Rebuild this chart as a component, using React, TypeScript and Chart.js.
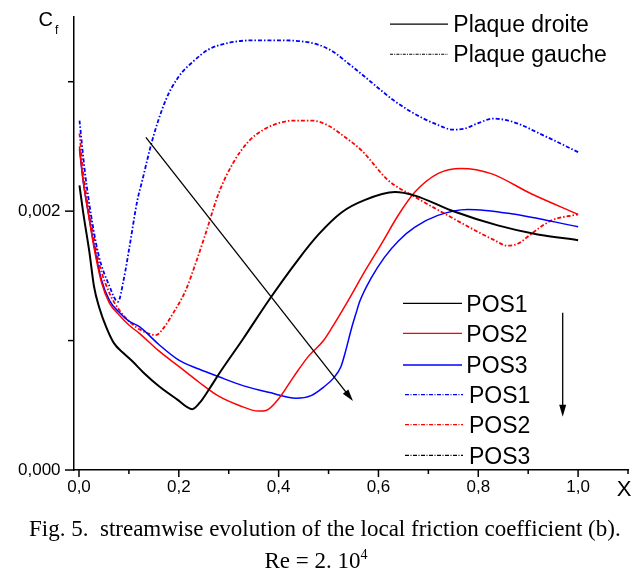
import React, { useEffect, useRef } from 'react';
import { Chart, registerables } from 'chart.js';

Chart.register(...registerables);

// ---- Data (Cf values given in units of 1e-3) ----
// Plaque droite (solid)
const droitePos1X = [0.001, 0.008, 0.021, 0.03, 0.041, 0.055, 0.07, 0.09, 0.107, 0.13, 0.161, 0.195, 0.227, 0.242, 0.26, 0.28, 0.33, 0.38, 0.44, 0.48, 0.526, 0.572, 0.633, 0.673, 0.746, 0.839, 0.919, 1.0];
const droitePos1Y = [2.20, 2.00, 1.68, 1.42, 1.25, 1.10, 0.98, 0.90, 0.84, 0.75, 0.645, 0.55, 0.47, 0.52, 0.62, 0.74, 1.02, 1.31, 1.63, 1.82, 1.99, 2.085, 2.147, 2.12, 2.005, 1.89, 1.82, 1.776];

const droitePos2X = [0.001, 0.008, 0.018, 0.03, 0.045, 0.061, 0.08, 0.1, 0.121, 0.16, 0.2, 0.24, 0.28, 0.32, 0.36, 0.375, 0.40, 0.43, 0.46, 0.49, 0.51, 0.539, 0.572, 0.606, 0.64, 0.673, 0.719, 0.766, 0.826, 0.906, 1.0];
const droitePos2Y = [2.50, 2.25, 2.00, 1.72, 1.45, 1.29, 1.20, 1.12, 1.056, 0.92, 0.80, 0.68, 0.57, 0.50, 0.455, 0.46, 0.55, 0.72, 0.88, 1.00, 1.12, 1.307, 1.53, 1.747, 1.97, 2.147, 2.29, 2.33, 2.29, 2.134, 1.975];

const droitePos3X = [0.001, 0.008, 0.018, 0.03, 0.045, 0.061, 0.08, 0.1, 0.121, 0.16, 0.2, 0.24, 0.28, 0.33, 0.38, 0.435, 0.465, 0.49, 0.51, 0.525, 0.535, 0.545, 0.555, 0.563, 0.585, 0.612, 0.64, 0.673, 0.719, 0.779, 0.866, 1.0];
const droitePos3Y = [2.48, 2.24, 2.00, 1.74, 1.47, 1.31, 1.22, 1.15, 1.107, 0.97, 0.849, 0.78, 0.72, 0.65, 0.60, 0.555, 0.575, 0.64, 0.71, 0.80, 0.93, 1.08, 1.21, 1.307, 1.48, 1.643, 1.77, 1.876, 1.967, 2.013, 1.98, 1.88];

// Plaque gauche (dash-dot)
const gauchePos1X = [0.001, 0.012, 0.025, 0.04, 0.06, 0.078, 0.09, 0.101, 0.117, 0.127, 0.147, 0.174, 0.2, 0.227, 0.26, 0.3, 0.35, 0.4, 0.45, 0.48, 0.51, 0.54, 0.569, 0.6, 0.629, 0.66, 0.688, 0.72, 0.748, 0.77, 0.8, 0.83, 0.86, 0.89, 0.917, 0.95, 1.0];
const gauchePos1Y = [2.70, 2.30, 1.95, 1.65, 1.43, 1.30, 1.48, 1.72, 2.085, 2.24, 2.55, 2.86, 3.04, 3.15, 3.25, 3.30, 3.32, 3.32, 3.31, 3.285, 3.23, 3.14, 3.05, 2.95, 2.86, 2.78, 2.72, 2.665, 2.63, 2.635, 2.68, 2.715, 2.70, 2.66, 2.61, 2.55, 2.456];

const gauchePos2X = [0.001, 0.01, 0.025, 0.04, 0.061, 0.08, 0.1, 0.12, 0.135, 0.154, 0.17, 0.19, 0.214, 0.234, 0.254, 0.28, 0.31, 0.34, 0.37, 0.40, 0.43, 0.466, 0.5, 0.53, 0.566, 0.619, 0.673, 0.739, 0.8, 0.83, 0.859, 0.88, 0.906, 0.946, 1.0];
const gauchePos2Y = [2.60, 2.25, 1.90, 1.60, 1.367, 1.24, 1.15, 1.09, 1.06, 1.042, 1.10, 1.22, 1.39, 1.60, 1.83, 2.14, 2.38, 2.54, 2.63, 2.68, 2.70, 2.70, 2.66, 2.58, 2.47, 2.24, 2.11, 1.967, 1.838, 1.78, 1.733, 1.75, 1.824, 1.927, 1.975];

const gauchePos3X: number[] = [];
const gauchePos3Y: number[] = [];

// ---- Text ----
const xTickLabels = ['0,0', '0,2', '0,4', '0,6', '0,8', '1,0'];
const yTickLabels = ['0,000', '0,002'];
const plaqueLabels = ['Plaque droite', 'Plaque gauche'];
const posLabels = ['POS1', 'POS2', 'POS3', 'POS1', 'POS2', 'POS3'];
const captionLine1 = 'Fig. 5.  streamwise evolution of the local friction coefficient (b).';
const captionLine2 = 'Re = 2. 10';
const captionSup = '4';

const SANS = '"Liberation Sans", Arial, Helvetica, sans-serif';
const SERIF = '"Liberation Serif", "Times New Roman", Times, serif';

const DD = [4, 2, 1.5, 2];
const DD_LEG = [4, 1.5, 1, 1.5];
const DD_FINE = [3, 1.2, 1, 1.2];

function drawArrow(ctx: CanvasRenderingContext2D, x1: number, y1: number, x2: number, y2: number, hl: number, hw: number) {
  const a = Math.atan2(y2 - y1, x2 - x1);
  const bx = x2 - hl * Math.cos(a);
  const by = y2 - hl * Math.sin(a);
  ctx.beginPath();
  ctx.moveTo(x1, y1);
  ctx.lineTo(bx + 1 * Math.cos(a), by + 1 * Math.sin(a));
  ctx.stroke();
  ctx.beginPath();
  ctx.moveTo(x2, y2);
  ctx.lineTo(bx + hw * Math.sin(a), by - hw * Math.cos(a));
  ctx.lineTo(bx - hw * Math.sin(a), by + hw * Math.cos(a));
  ctx.closePath();
  ctx.fill();
}

const overlay = {
  id: 'overlay',
  afterDraw(chart: any) {
    const ctx: CanvasRenderingContext2D = chart.ctx;
    const xs = chart.scales.x;
    const ys = chart.scales.y;
    const ca = chart.chartArea;
    ctx.save();
    ctx.strokeStyle = '#000';
    ctx.fillStyle = '#000';
    ctx.lineWidth = 1.5;
    ctx.setLineDash([]);
    // tick marks
    for (let i = 0; i <= 11; i++) {
      const px = xs.getPixelForValue(i / 10);
      const len = i % 2 === 0 ? 7 : 4;
      ctx.beginPath();
      ctx.moveTo(px, ca.bottom);
      ctx.lineTo(px, ca.bottom + len);
      ctx.stroke();
    }
    for (let i = 0; i <= 3; i++) {
      const py = ys.getPixelForValue(i / 1000);
      const len = i % 2 === 0 ? 9 : 6;
      ctx.beginPath();
      ctx.moveTo(ca.left - len, py);
      ctx.lineTo(ca.left, py);
      ctx.stroke();
    }

    // axis titles
    ctx.textBaseline = 'alphabetic';
    ctx.textAlign = 'left';
    ctx.font = `20px ${SANS}`;
    ctx.fillText('C', 38.5, 26);
    ctx.font = `12px ${SANS}`;
    ctx.fillText('f', 55, 33.5);
    ctx.font = `22px ${SANS}`;
    ctx.textAlign = 'center';
    ctx.fillText('X', 624, 496);

    // diagonal arrow
    ctx.lineWidth = 1.3;
    drawArrow(ctx, xs.getPixelForValue(0.134), ys.getPixelForValue(0.00257),
      xs.getPixelForValue(0.549), ys.getPixelForValue(0.000533), 12, 3.5);
    // legend arrow
    drawArrow(ctx, 562.7, 312.7, 562.7, 416.7, 12, 3.5);

    // Plaque legend
    ctx.textAlign = 'left';
    ctx.font = `23px ${SANS}`;
    const plaqueY = [24.2, 54.2];
    const plaqueDash = [[], DD_FINE];
    plaqueLabels.forEach((t, i) => {
      ctx.lineWidth = i === 0 ? 1.3 : 1.1;
      ctx.setLineDash(plaqueDash[i]);
      ctx.beginPath();
      ctx.moveTo(390, plaqueY[i]);
      ctx.lineTo(448, plaqueY[i]);
      ctx.stroke();
      ctx.setLineDash([]);
      ctx.fillText(t, 453.3, plaqueY[i] + 8.2);
    });

    // POS legend
    const posY = [303.3, 333.3, 365, 394.7, 424.7, 455.3];
    const ds = chart.data.datasets;
    posLabels.forEach((t, i) => {
      const d = ds[i];
      const dashed = i >= 3;
      ctx.strokeStyle = d.borderColor;
      ctx.lineWidth = dashed ? 1.2 : 1.3;
      ctx.setLineDash(dashed ? DD_LEG : []);
      ctx.beginPath();
      ctx.moveTo(dashed ? 405 : 403, posY[i]);
      ctx.lineTo(dashed ? 463 : 462, posY[i]);
      ctx.stroke();
      ctx.setLineDash([]);
      ctx.fillStyle = '#000';
      ctx.fillText(t, dashed ? 469 : 466.3, posY[i] + 8.2);
    });
    ctx.restore();
  },
};

export default function App() {
  const ref = useRef<HTMLCanvasElement>(null);
  useEffect(() => {
    const canvas = ref.current!;
    const mk = (xs: number[], ys: number[]) => xs.map((x, i) => ({ x, y: ys[i] / 1000 }));
    const chart = new Chart(canvas, {
      type: 'line',
      data: {
        datasets: [
          { label: 'POS1', data: mk(droitePos1X, droitePos1Y), borderColor: '#000000', borderWidth: 2 },
          { label: 'POS2', data: mk(droitePos2X, droitePos2Y), borderColor: '#ff0000', borderWidth: 1.5 },
          { label: 'POS3', data: mk(droitePos3X, droitePos3Y), borderColor: '#0000ff', borderWidth: 1.5 },
          { label: 'POS1', data: mk(gauchePos1X, gauchePos1Y), borderColor: '#0000ff', borderWidth: 1.8, borderDash: DD },
          { label: 'POS2', data: mk(gauchePos2X, gauchePos2Y), borderColor: '#ff0000', borderWidth: 1.8, borderDash: DD },
          { label: 'POS3', data: mk(gauchePos3X, gauchePos3Y), borderColor: '#000000', borderWidth: 1.8, borderDash: DD },
        ] as any,
      },
      options: {
        responsive: false,
        animation: false,
        devicePixelRatio: 1,
        layout: { padding: { left: 18, right: 3, top: 17, bottom: 0 } },
        plugins: { legend: { display: false }, tooltip: { enabled: false }, title: { display: false } },
        elements: {
          point: { radius: 0 },
          line: { cubicInterpolationMode: 'monotone', fill: false },
        },
        scales: {
          x: {
            type: 'linear',
            min: -0.01,
            max: 1.1,
            grid: { display: false, drawTicks: false },
            border: { display: true, color: '#000', width: 1.5 },
            ticks: {
              stepSize: 0.1,
              includeBounds: false,
              autoSkip: false,
              maxRotation: 0,
              padding: 7,
              color: '#000',
              font: { size: 17, family: SANS },
              callback: (v: any) => {
                const k = Math.round(Number(v) * 10);
                if (k % 2 !== 0) return '';
                return xTickLabels[k / 2] ?? '';
              },
            },
            afterFit: (s: any) => { s.height = 107; },
          },
          y: {
            type: 'linear',
            min: 0,
            max: 0.0035,
            grid: { display: false, drawTicks: false },
            border: { display: true, color: '#000', width: 1.5 },
            ticks: {
              stepSize: 0.001,
              includeBounds: false,
              autoSkip: false,
              padding: 0,
              crossAlign: 'far',
              color: '#000',
              font: { size: 17, family: SANS },
              callback: (v: any) => {
                const k = Math.round(Number(v) * 1000);
                if (k % 2 !== 0) return '';
                return yTickLabels[k / 2] ?? '';
              },
            },
            afterFit: (s: any) => { s.width = 56; },
          },
        },
      } as any,
      plugins: [overlay],
    });
    return () => chart.destroy();
  }, []);

  return (
    <div style={{ position: 'absolute', left: 0, top: 0, width: 635, height: 577, background: '#fff', overflow: 'hidden' }}>
      <canvas ref={ref} width={635} height={577} style={{ position: 'absolute', left: 0, top: 0, width: 635, height: 577 }} />
      <div style={{ position: 'absolute', left: 29, top: 517, font: `23px ${SERIF}`, lineHeight: '23px', whiteSpace: 'pre', color: '#000' }}>
        {captionLine1}
      </div>
      <div style={{ position: 'absolute', left: 264.5, top: 549, font: `23px ${SERIF}`, lineHeight: '23px', whiteSpace: 'pre', color: '#000' }}>
        {captionLine2}
        <span style={{ fontSize: '14px', position: 'relative', top: '-9px' }}>{captionSup}</span>
      </div>
    </div>
  );
}
